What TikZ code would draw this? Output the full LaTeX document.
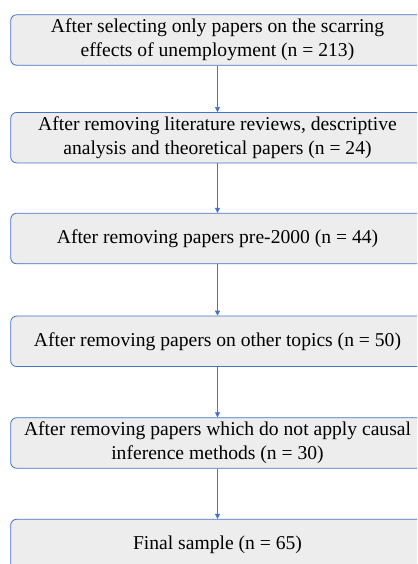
\documentclass[tikz,border=0pt]{standalone}
\usepackage{fontspec}
\setmainfont{Liberation Serif}
\usetikzlibrary{arrows.meta}
\definecolor{boxfill}{HTML}{EDEDED}
\definecolor{boxline}{HTML}{4472C4}
\begin{document}
\begin{tikzpicture}[x=1pt,y=1pt,
  flowbox/.style={draw=boxline, line width=0.8pt, fill=boxfill, rounded corners=6pt,
    minimum width=413.6pt, minimum height=50.5pt, align=center, inner sep=0pt,
    font=\fontsize{19.6}{24}\selectfont},
  flowarrow/.style={draw=boxline, line width=0.7pt, -{Triangle[length=5pt,width=5pt]}}]
\useasboundingbox (0,0) rectangle (417,-564);
\clip (0,0) rectangle (417,-564);
\node[flowbox] (b1) at (217.5,-40) {After selecting only papers on the scarring\\effects of unemployment (n = 213)};
\node[flowbox] (b2) at (217.5,-137.7) {After removing literature reviews, descriptive\\analysis and theoretical papers (n = 24)};
\node[flowbox] (b3) at (217.5,-238.5) {After removing papers pre-2000 (n = 44)};
\node[flowbox] (b4) at (217.5,-341.3) {After removing papers on other topics (n = 50)};
\node[flowbox] (b5) at (217.5,-443) {After removing papers which do not apply causal\\inference methods (n = 30)};
\node[flowbox] (b6) at (217.5,-544.5) {Final sample (n = 65)};
\draw[flowarrow] (b1.south) -- (b2.north);
\draw[flowarrow] (b2.south) -- (b3.north);
\draw[flowarrow] (b3.south) -- (b4.north);
\draw[flowarrow] (b4.south) -- (b5.north);
\draw[flowarrow] (b5.south) -- (b6.north);
\end{tikzpicture}
\end{document}
